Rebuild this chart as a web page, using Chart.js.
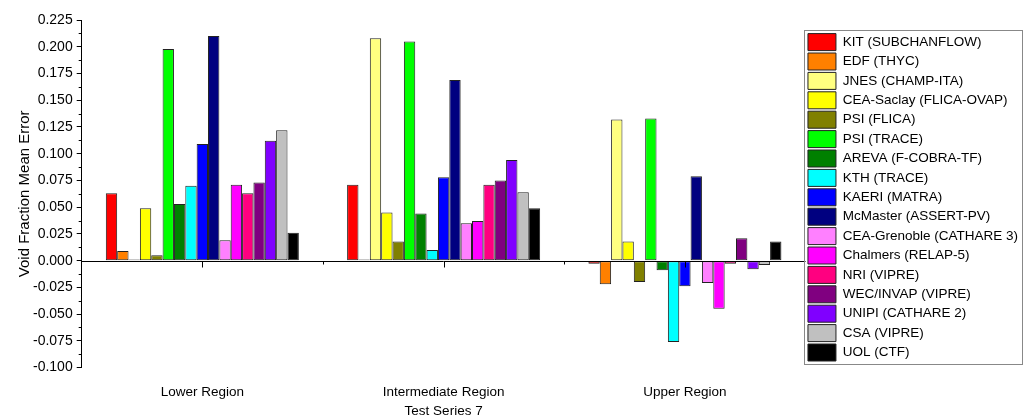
<!DOCTYPE html>
<html>
<head>
<meta charset="utf-8">
<script src="https://cdn.jsdelivr.net/npm/chart.js@4.4.1/dist/chart.umd.min.js"></script>
<style>
  html, body { margin: 0; padding: 0; background: #fff; }
  #wrap { width: 1028px; height: 420px; }
</style>
</head>
<body>
<div id="wrap"><canvas id="myChart" width="1028" height="420"></canvas></div>
<script>
var regions = ['Lower Region', 'Intermediate Region', 'Upper Region']

var codes = ['KIT (SUBCHANFLOW)', 'EDF (THYC)', 'JNES (CHAMP-ITA)', 'CEA-Saclay (FLICA-OVAP)',
  'PSI (FLICA)', 'PSI (TRACE)', 'AREVA (F-COBRA-TF)', 'KTH (TRACE)', 'KAERI (MATRA)',
  'McMaster (ASSERT-PV)', 'CEA-Grenoble (CATHARE 3)', 'Chalmers (RELAP-5)', 'NRI (VIPRE)',
  'WEC/INVAP (VIPRE)', 'UNIPI (CATHARE 2)', 'CSA (VIPRE)', 'UOL (CTF)']

var colors = ['#FF0000', '#FF8000', '#FFFF80', '#FFFF00', '#808000', '#00FF00', '#008000',
  '#00FFFF', '#0000FF', '#000080', '#FF80FF', '#FF00FF', '#FF0080', '#800080', '#8000FF',
  '#C0C0C0', '#000000']

// one value per code, same order as codes
var lowerRegion = [0.063, 0.009, 0.001, 0.049, 0.005, 0.198, 0.053, 0.070, 0.109, 0.210,
  0.019, 0.071, 0.063, 0.073, 0.112, 0.122, 0.026]
var intermediateRegion = [0.071, 0.001, 0.208, 0.045, 0.018, 0.205, 0.044, 0.010, 0.078, 0.169,
  0.035, 0.037, 0.071, 0.075, 0.094, 0.064, 0.049]
var upperRegion = [-0.003, -0.022, 0.132, 0.018, -0.020, 0.133, -0.009, -0.076, -0.024, 0.079,
  -0.021, -0.045, -0.003, 0.021, -0.008, -0.004, 0.018]

var yTicks = { min: -0.100, max: 0.225, step: 0.025 }

var FONT = '"Liberation Sans", Arial, sans-serif'

var datasets = []
for (var i = 0; i < codes.length; i++) {
  datasets.push({
    label: codes[i],
    data: [lowerRegion[i], intermediateRegion[i], upperRegion[i]],
    backgroundColor: colors[i],
    borderColor: '#222222',
    borderWidth: 1,
    borderSkipped: false
  })
}

// zero line, x ticks on it, minor y ticks, legend frame
const axisExtras = {
  id: 'axisExtras',
  afterDatasetsDraw(chart) {
    const c = chart.ctx
    const area = chart.chartArea
    const x = chart.scales.x
    const y = chart.scales.y
    const y0 = Math.round(y.getPixelForValue(0)) + 0.5
    c.save()
    c.strokeStyle = '#000'
    c.lineWidth = 1
    c.beginPath()
    c.moveTo(area.left, y0)
    c.lineTo(area.right, y0)
    var half = (x.getPixelForValue(1) - x.getPixelForValue(0)) / 2
    for (var k = 0; k < regions.length; k++) {
      var px = Math.round(x.getPixelForValue(k)) + 0.5
      c.moveTo(px, y0)
      c.lineTo(px, y0 + 6)
      var bx = Math.round(x.getPixelForValue(k) + half) + 0.5
      if (k < regions.length - 1) {
        c.moveTo(bx, y0)
        c.lineTo(bx, y0 + 3)
      }
    }
    for (var v = yTicks.min + yTicks.step / 2; v < yTicks.max; v += yTicks.step) {
      var py = Math.round(y.getPixelForValue(v)) + 0.5
      c.moveTo(area.left - 3, py)
      c.lineTo(area.left, py)
    }
    c.stroke()
    c.restore()
  },
  afterDraw(chart) {
    const boxes = chart.legend.legendHitBoxes
    if (!boxes || !boxes.length) return
    var l = Infinity, r = -Infinity, t = Infinity, b = -Infinity
    boxes.forEach(function (h) {
      l = Math.min(l, h.left); r = Math.max(r, h.left + h.width)
      t = Math.min(t, h.top); b = Math.max(b, h.top + h.height)
    })
    const c = chart.ctx
    c.save()
    c.strokeStyle = '#888'
    c.lineWidth = 1
    c.strokeRect(Math.round(l - 4) + 0.5, Math.round(t - 4) + 0.5, Math.round(r - l + 8), Math.round(b - t + 7))
    c.restore()
  }
}

const ctx = document.getElementById('myChart')
var chart = new Chart(ctx, {
  type: 'bar',
  data: { labels: regions, datasets: datasets },
  plugins: [axisExtras],
  options: {
    responsive: false,
    animation: false,
    layout: { padding: { left: 3, top: 20, right: 0, bottom: 1 } },
    datasets: { bar: { categoryPercentage: 0.8, barPercentage: 1.0 } },
    plugins: {
      tooltip: { enabled: false },
      legend: {
        position: 'right',
        align: 'start',
        title: { display: true, text: '', font: { size: 1 }, padding: { top: 10, bottom: 0 } },
        labels: {
          boxWidth: 28,
          boxHeight: 17,
          padding: 2.4,
          color: '#000',
          font: { family: FONT, size: 13.5 }
        }
      }
    },
    scales: {
      x: {
        grid: { display: false, drawTicks: false, tickLength: 0 },
        border: { display: false },
        ticks: { color: '#000', padding: 17, font: { family: FONT, size: 13.5 } },
        title: { display: true, text: 'Test Series 7', color: '#000', padding: { top: -15, bottom: 0 }, font: { family: FONT, size: 13.5 } }
      },
      y: {
        min: yTicks.min,
        max: yTicks.max,
        border: { display: true, color: '#000', width: 1 },
        grid: { drawOnChartArea: false, drawTicks: true, tickLength: 5, tickColor: '#000' },
        ticks: {
          stepSize: yTicks.step,
          color: '#000',
          padding: 4,
          font: { family: FONT, size: 14 },
          callback: function (v) { return Number(v).toFixed(3) }
        },
        title: { display: true, text: 'Void Fraction Mean Error', color: '#000', padding: { top: 13, bottom: -5 }, font: { family: FONT, size: 15 } }
      }
    }
  }
})
</script>
</body>
</html>
